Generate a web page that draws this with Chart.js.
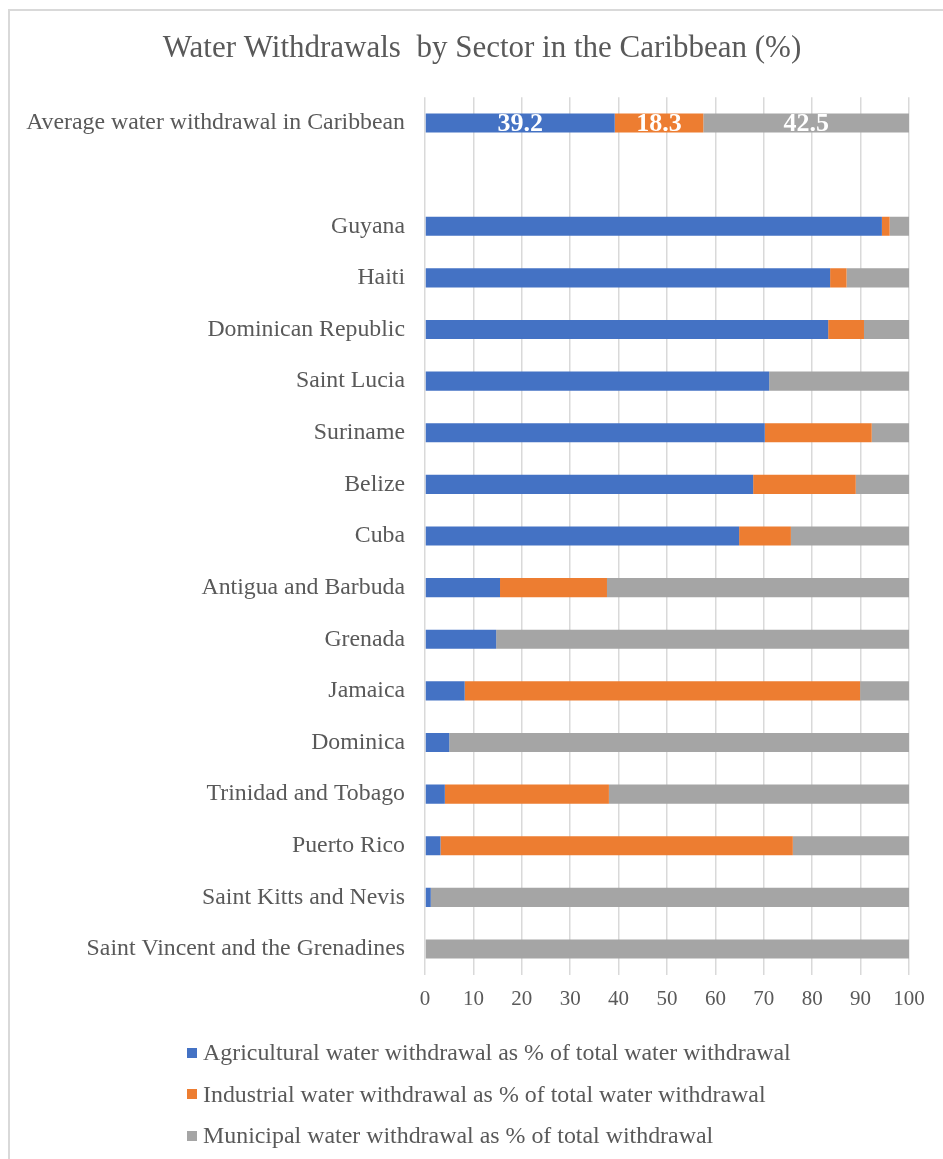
<!DOCTYPE html>
<html>
<head>
<meta charset="utf-8">
<script src="https://cdn.jsdelivr.net/npm/chart.js@4/dist/chart.umd.min.js"></script>
<style>
  html, body { margin: 0; padding: 0; background: #ffffff; overflow: hidden; }
  #wrap { position: absolute; left: 0; top: 0; width: 966px; height: 1159px; }
  #frame { position: absolute; left: 8px; top: 9px; width: 980px; height: 1180px; border: 2px solid #d9d9d9; box-sizing: border-box; pointer-events: none; }
  #legend { position: absolute; left: 187px; top: 1032px; font-family: 'Liberation Serif', 'Times New Roman', serif; font-size: 23.9px; color: #595959; }
  .item { height: 41.5px; line-height: 41.5px; white-space: nowrap; }
  .sw { display: inline-block; width: 10px; height: 10px; margin-right: 6px; vertical-align: middle; position: relative; top: -2px; }
</style>
</head>
<body>
<div id="wrap"><canvas id="c"></canvas></div>
<div id="frame"></div>
<div id="legend"></div>
<script>
const chartTitle = "Water Withdrawals  by Sector in the Caribbean (%)";
const categories = [
  "Average water withdrawal in Caribbean", "",
  "Guyana", "Haiti", "Dominican Republic", "Saint Lucia", "Suriname", "Belize", "Cuba",
  "Antigua and Barbuda", "Grenada", "Jamaica", "Dominica", "Trinidad and Tobago",
  "Puerto Rico", "Saint Kitts and Nevis", "Saint Vincent and the Grenadines"
];
const seriesNames = [
  "Agricultural water withdrawal as % of total water withdrawal",
  "Industrial water withdrawal as % of total water withdrawal",
  "Municipal water withdrawal as % of total withdrawal"
];
const agricultural = [39.2, null, 94.4, 83.7, 83.3, 71.1, 70.2, 67.8, 64.9, 15.5, 14.7, 8.2, 5.0, 4.1, 3.2, 1.2, 0];
const industrial   = [18.3, null, 1.6, 3.4, 7.4, 0, 22.1, 21.2, 10.7, 22.1, 0, 81.7, 0, 33.9, 72.8, 0, 0];
const municipal    = [42.5, null, 4.0, 12.9, 9.3, 28.9, 7.7, 11.0, 24.4, 62.4, 85.3, 10.1, 95.0, 62.0, 24.0, 98.8, 100];
const xTicks = [0, 10, 20, 30, 40, 50, 60, 70, 80, 90, 100];
const labeledCategories = ["Average water withdrawal in Caribbean"];

const colors = ["#4472C4", "#ED7D31", "#A5A5A5"];
const seriesValues = [agricultural, industrial, municipal];
const FONT = "'Liberation Serif', 'Times New Roman', serif";

Chart.defaults.font.family = FONT;
Chart.defaults.color = "#595959";

const valueLabels = {
  id: 'valueLabels',
  afterDatasetsDraw(chart) {
    const ctx = chart.ctx;
    ctx.save();
    ctx.font = "bold 26px " + FONT;
    ctx.fillStyle = "#ffffff";
    ctx.textAlign = "center";
    ctx.textBaseline = "middle";
    labeledCategories.forEach(cat => {
      const idx = categories.indexOf(cat);
      chart.data.datasets.forEach((ds, i) => {
        const v = ds.data[idx];
        if (v == null || v === 0) return;
        const el = chart.getDatasetMeta(i).data[idx];
        ctx.fillText(v.toFixed(1), (el.x + el.base) / 2, el.y + 1);
      });
    });
    ctx.restore();
  }
};

const chart = new Chart(document.getElementById('c'), {
  type: 'bar',
  data: {
    labels: categories,
    datasets: seriesValues.map((vals, i) => ({
      label: seriesNames[i],
      data: vals,
      backgroundColor: colors[i],
      borderWidth: 0,
      barPercentage: 0.369,
      categoryPercentage: 1.0
    }))
  },
  options: {
    indexAxis: 'y',
    responsive: true,
    maintainAspectRatio: false,
    animation: false,
    layout: { padding: { left: 0, right: 2, top: 0, bottom: 135 } },
    plugins: {
      legend: { display: false },
      tooltip: { enabled: false },
      title: {
        display: true,
        text: chartTitle,
        color: "#595959",
        font: { family: FONT, size: 31, weight: 'normal' },
        padding: { top: 30, bottom: 30 }
      }
    },
    scales: {
      x: {
        stacked: true,
        min: 0, max: 100,
        afterBuildTicks: (scale) => { scale.ticks = xTicks.map(v => ({ value: v })); },
        ticks: { font: { size: 21 }, color: "#595959", padding: 12, maxRotation: 0, autoSkip: false },
        grid: { color: "#d9d9d9", lineWidth: 1.5, drawTicks: false },
        border: { display: false }
      },
      y: {
        stacked: true,
        afterFit: (scale) => { scale.width = 425; },
        ticks: { font: { size: 23.8 }, color: "#595959", padding: 20, autoSkip: false },
        grid: { display: false, drawTicks: false },
        border: { display: false }
      },
      rightSpace: {
        type: 'linear',
        position: 'right',
        axis: 'y',
        afterFit: (scale) => { scale.width = 55; },
        ticks: { display: false },
        grid: { display: false, drawTicks: false },
        border: { display: false }
      }
    }
  },
  plugins: [valueLabels]
});

const legend = document.getElementById('legend');
chart.data.datasets.forEach(ds => {
  const row = document.createElement('div');
  row.className = 'item';
  const sw = document.createElement('span');
  sw.className = 'sw';
  sw.style.background = ds.backgroundColor;
  row.appendChild(sw);
  row.appendChild(document.createTextNode(ds.label));
  legend.appendChild(row);
});
</script>
</body>
</html>
